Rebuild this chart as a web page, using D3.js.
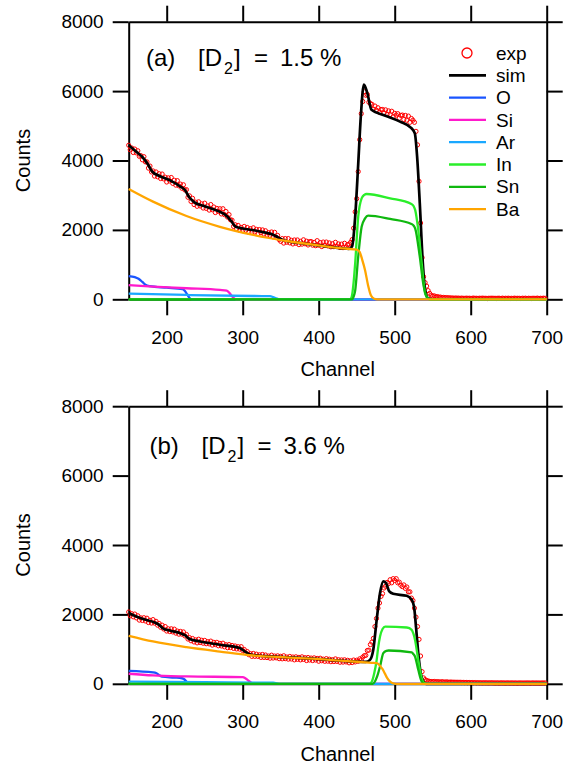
<!DOCTYPE html>
<html>
<head>
<meta charset="utf-8">
<script src="https://cdn.jsdelivr.net/npm/d3@7"></script>
<style>
  body { margin: 0; background: #fff; }
  svg { display: block; }
  text { font-family: "Liberation Sans", Arial, sans-serif; }
</style>
</head>
<body>
<svg id="chart" width="566" height="771"></svg>
<script>
// measured counts, one point every 2 channels from 150
const expChannels = d3.range(150, 700, 2)

const expA = [
  4440, 4310, 4360, 4230, 4330, 4220, 4280, 4120, 4140, 4020,
  4110, 3960, 3960, 3780, 3840, 3670, 3700, 3550, 3670, 3530,
  3620, 3480, 3610, 3470, 3520, 3380, 3500, 3410, 3510, 3340,
  3430, 3290, 3420, 3270, 3320, 3200, 3300, 3150, 3160, 2940,
  2980, 2820, 2910, 2730, 2800, 2680, 2810, 2690, 2750, 2630,
  2770, 2620, 2690, 2570, 2730, 2580, 2660, 2500, 2620, 2530,
  2610, 2460, 2610, 2440, 2530, 2370, 2440, 2290, 2280, 2100,
  2150, 2030, 2130, 1990, 2070, 1980, 2100, 1990, 2070, 1930,
  2035, 1930, 2060, 1940, 2015, 1890, 2010, 1920, 2000, 1880,
  1975, 1850, 1920, 1840, 1940, 1800, 1930, 1790, 1840, 1720,
  1670, 1750, 1620, 1750, 1645, 1750, 1625, 1700, 1595, 1710,
  1615, 1710, 1575, 1670, 1590, 1715, 1600, 1675, 1565, 1660,
  1665, 1560, 1640, 1545, 1690, 1560, 1635, 1520, 1650, 1555,
  1650, 1538, 1625, 1512, 1600, 1516, 1642, 1530, 1596, 1493,
  1590, 1488, 1615, 1505, 1575, 1590, 1640, 1720, 2050, 2520,
  2900, 3680, 4600, 5350, 5700, 5980, 5880, 5900, 5680, 5640,
  5620, 5480, 5570, 5450, 5520, 5390, 5470, 5470, 5370, 5460,
  5330, 5430, 5320, 5420, 5260, 5360, 5310, 5350, 5220, 5300,
  5310, 5180, 5300, 5160, 5280, 5100, 5210, 5160, 5100, 4840,
  4450, 3400, 2200, 1200, 650, 480, 380, 250, 170, 120,
  90, 100, 70, 80, 60, 65, 50, 55, 45, 50,
  40, 45, 35, 40, 30, 38, 32, 35, 28, 34,
  30, 26, 34, 28, 32, 25, 30, 35, 27, 30,
  25, 32, 28, 34, 26, 30, 22, 31, 28, 33,
  27, 30, 24, 32, 29, 26, 33, 25, 30, 28,
  31, 24, 29, 27, 33, 25, 30, 28, 22, 31,
  27, 32, 25, 30, 28, 24, 31, 26, 29, 33,
  25, 30, 27, 32, 28
]

const expB = [
  2070, 1960, 2020, 1930, 2010, 1900, 1960, 1835, 1900, 1825,
  1905, 1810, 1890, 1765, 1830, 1750, 1850, 1750, 1800, 1690,
  1740, 1630, 1690, 1580, 1650, 1520, 1585, 1505, 1585, 1495,
  1575, 1460, 1520, 1430, 1510, 1430, 1495, 1380, 1420, 1290,
  1330, 1240, 1305, 1205, 1265, 1180, 1285, 1190, 1255, 1170,
  1250, 1155, 1215, 1150, 1230, 1115, 1195, 1130, 1195, 1095,
  1165, 1090, 1170, 1065, 1125, 1040, 1130, 1045, 1105, 1020,
  1090, 1005, 1070, 1000, 1070, 960, 990, 890, 930, 840,
  870, 790, 875, 790, 855, 790, 835, 760, 845, 760,
  830, 755, 800, 738, 825, 742, 800, 748, 806, 724,
  792, 720, 808, 725, 772, 710, 788, 715, 772, 690,
  778, 705, 762, 690, 777, 705, 752, 670, 758, 685,
  742, 670, 748, 685, 732, 650, 737, 664, 710, 648,
  725, 652, 710, 637, 694, 641, 718, 645, 693, 621,
  688, 625, 692, 630, 678, 605, 663, 612, 685, 630,
  680, 650, 720, 690, 770, 810, 820, 960, 970, 1130,
  1200, 1310, 1650, 1880, 2180, 2330, 2520, 2600, 2760, 2810,
  2920, 2890, 3000, 2910, 3030, 2980, 3030, 2910, 2930, 2840,
  2800, 2850, 2750, 2790, 2650, 2650, 2470, 2400, 2180, 1920,
  1650, 1280, 800, 350, 170, 120, 95, 80, 70, 65,
  60, 68, 55, 62, 58, 50, 60, 54, 48, 56,
  50, 45, 52, 44, 48, 42, 46, 40, 45, 38,
  42, 36, 40, 34, 38, 32, 36, 30, 34, 28,
  32, 27, 30, 25, 31, 26, 29, 24, 30, 26,
  28, 23, 27, 25, 22, 28, 24, 26, 21, 27,
  24, 22, 27, 21, 25, 23, 20, 26, 22, 24,
  21, 25, 22, 26, 20, 23, 25, 21, 24, 22,
  23, 20, 25, 22, 24
]

// simulated spectra, [channel, counts]
const simA = [[150, 4440], [160, 4250], [168, 4100], [175, 3900], [181, 3680], [190, 3560], [205, 3420], [218, 3250], [224, 3150], [229, 2960], [236, 2800], [250, 2680], [268, 2540], [279, 2400], [285, 2250], [291, 2090], [300, 2040], [315, 1990], [330, 1920], [340, 1860], [346, 1790], [352, 1715], [360, 1670], [380, 1610], [402, 1545], [428, 1475], [440, 1455], [444, 1530], [448, 2380], [452, 3900], [455.5, 5300], [459.5, 6190], [464, 5940], [469.5, 5460], [485, 5310], [507, 5120], [522, 4930], [526.5, 4780], [529.5, 4110], [533, 2770], [537, 1040], [540, 270], [544, 30], [550, 0], [700, 0]]
const oA = [[150, 670], [158, 640], [163, 590], [168, 500], [172, 420], [178, 380], [200, 335], [221, 290], [224, 240], [227, 140], [230, 40], [233, 0], [700, 0]]
const siA = [[150, 410], [182, 365], [226, 318], [270, 270], [279, 250], [283, 170], [287, 60], [291, 0], [700, 0]]
const arA = [[150, 165], [226, 125], [314, 95], [336, 92], [340, 65], [344, 30], [348, 0], [700, 0]]
const inA = [[150, 0], [441, 0], [443.5, 80], [446, 500], [448, 1040], [452, 2380], [456.5, 2910], [460, 3010], [463, 3035], [494, 2910], [522, 2745], [525, 2680], [527, 2570], [531, 2000], [535.5, 1040], [540, 170], [544, 20], [547, 0], [700, 0]]
const snA = [[150, 0], [444, 0], [446, 80], [448, 250], [452, 1230], [456.5, 2090], [461, 2330], [465, 2410], [494, 2315], [522, 2170], [525, 2120], [527, 2040], [533, 1230], [537.5, 460], [542, 75], [546, 0], [700, 0]]
const baA = [[150, 3180], [182, 2815], [226, 2400], [270, 2090], [314, 1855], [358, 1680], [402, 1545], [428, 1475], [446, 1440], [451, 1420], [454, 1360], [457, 1160], [461, 840], [465, 400], [469, 100], [473, 15], [477, 0], [700, 0]]

const simB = [[150, 2040], [160, 1940], [170, 1860], [185, 1760], [190, 1700], [195, 1600], [205, 1530], [218, 1460], [224, 1400], [230, 1290], [244, 1220], [270, 1125], [296, 1030], [303, 930], [308, 860], [314, 830], [330, 795], [358, 765], [402, 712], [428, 668], [446, 645], [462, 632], [467.5, 690], [471.8, 980], [476.3, 1844], [480.7, 2614], [485, 2950], [488.6, 2902], [492.9, 2661], [498, 2594], [515.8, 2536], [522.4, 2421], [525.4, 2228], [528, 1651], [531, 884], [534.2, 308], [537.6, 66], [541, 0], [700, 0]]
const oB = [[150, 375], [182, 330], [186, 310], [190, 250], [194, 205], [210, 180], [220, 160], [223, 130], [226, 66], [229, 10], [231, 0], [700, 0]]
const siB = [[150, 290], [182, 240], [226, 212], [300, 193], [303, 170], [306, 120], [310, 50], [314, 0], [700, 0]]
const arB = [[150, 60], [250, 45], [340, 30], [350, 0], [700, 0]]
const inB = [[150, 0], [467, 0], [470, 70], [473, 300], [476.3, 690], [478, 1000], [480.7, 1360], [484, 1580], [487.5, 1650], [516, 1623], [522.4, 1556], [524.5, 1450], [526.7, 1270], [531, 690], [535.5, 165], [539, 20], [542, 0], [700, 0]]
const snB = [[150, 0], [471, 0], [474, 66], [477, 220], [480.7, 500], [485, 885], [489, 950], [492, 960], [522.4, 903], [524.5, 860], [526.7, 787], [531, 403], [535.5, 66], [539, 0], [700, 0]]
const baB = [[150, 1385], [182, 1220], [226, 1057], [270, 930], [314, 815], [358, 760], [402, 710], [428, 665], [446, 643], [470, 605], [476, 595], [479, 560], [481, 510], [484, 420], [487, 300], [490, 170], [494, 60], [498, 10], [502, 0], [700, 0]]

const xTicks = [200, 300, 400, 500, 600, 700]
const yTicks = [0, 2000, 4000, 6000, 8000]
const legendNames = ['exp', 'sim', 'O', 'Si', 'Ar', 'In', 'Sn', 'Ba']
const colors = {
  exp: '#ff0000', sim: '#000000', O: '#1a55ff', Si: '#ff1acc',
  Ar: '#1aa8ff', In: '#2aee2a', Sn: '#0fb80f', Ba: '#ffa500'
}

const svg = d3.select('#chart')
const margin = { left: 128.7, top: 21.7 }
const innerWidth = 418
const innerHeight = 277.6

const x = d3.scaleLinear().domain([150, 700]).range([0, innerWidth])
const y = d3.scaleLinear().domain([0, 8000]).range([innerHeight, 0])

const line = d3.line()
  .x(d => x(d[0]))
  .y(d => y(d[1]))
  .curve(d3.curveMonotoneX)

function styleAxis (g) {
  g.attr('font-size', 19).attr('font-family', 'Liberation Sans, Arial, sans-serif')
  g.selectAll('path, line').attr('stroke', '#000').attr('stroke-width', 2)
  g.selectAll('text').attr('fill', '#000')
}

function drawPanel (offsetY, exp, curves, title) {
  const g = svg.append('g')
    .attr('transform', 'translate(' + margin.left + ',' + (margin.top + offsetY) + ')')

  // axes on all four sides, ticks pointing out
  g.append('g')
    .attr('transform', 'translate(0,' + innerHeight + ')')
    .call(d3.axisBottom(x).tickValues(xTicks).tickSize(16).tickPadding(15).tickSizeOuter(0))
    .call(styleAxis)
  g.append('g')
    .call(d3.axisTop(x).tickValues(xTicks).tickSize(16).tickSizeOuter(0))
    .call(styleAxis)
    .call(a => a.selectAll('text').remove())
  g.append('g')
    .call(d3.axisLeft(y).tickValues(yTicks).tickFormat(d3.format('d')).tickSize(16).tickPadding(9).tickSizeOuter(0))
    .call(styleAxis)
  g.append('g')
    .attr('transform', 'translate(' + innerWidth + ',0)')
    .call(d3.axisRight(y).tickValues(yTicks).tickSize(16).tickSizeOuter(0))
    .call(styleAxis)
    .call(a => a.selectAll('text').remove())

  g.append('g')
    .selectAll('circle')
    .data(exp.map((v, i) => [expChannels[i], v]))
    .join('circle')
    .attr('cx', d => x(d[0]))
    .attr('cy', d => y(d[1]))
    .attr('r', 2.1)
    .attr('fill', 'none')
    .attr('stroke', colors.exp)
    .attr('stroke-width', 1)

  curves.forEach(c => {
    g.append('path')
      .datum(c.values)
      .attr('fill', 'none')
      .attr('stroke', colors[c.name])
      .attr('stroke-width', c.name === 'sim' ? 2.7 : 2.3)
      .attr('stroke-linejoin', 'round')
      .attr('d', line)
  })

  const t = g.append('text')
    .attr('y', title.y)
    .attr('font-size', 24)
    .attr('fill', '#000')
  t.append('tspan').attr('x', title.x - margin.left).text(title.tag)
  t.append('tspan').attr('x', title.x + 52 - margin.left).text('[D')
  t.append('tspan').attr('x', title.x + 78 - margin.left).attr('dy', 8).attr('font-size', 16).text('2')
  t.append('tspan').attr('x', title.x + 88 - margin.left).attr('dy', -8).text(']')
  t.append('tspan').attr('x', title.x + 108 - margin.left).text('=')
  t.append('tspan').attr('x', title.x + 134 - margin.left).text(title.value)
  t.append('tspan').attr('x', title.x + 174 - margin.left).text('%')

  g.append('text')
    .attr('x', innerWidth / 2)
    .attr('y', innerHeight + 77)
    .attr('text-anchor', 'middle')
    .attr('font-size', 20)
    .text('Channel')

  g.append('text')
    .attr('transform', 'translate(' + (30 - margin.left) + ',' + innerHeight / 2 + ') rotate(-90)')
    .attr('text-anchor', 'middle')
    .attr('font-size', 20)
    .text('Counts')

  return g
}

drawPanel(0, expA, [
  { name: 'sim', values: simA },
  { name: 'O', values: oA },
  { name: 'Si', values: siA },
  { name: 'Ar', values: arA },
  { name: 'In', values: inA },
  { name: 'Sn', values: snA },
  { name: 'Ba', values: baA }
], { x: 146, y: 44, tag: '(a)', value: '1.5' })

drawPanel(384.5, expB, [
  { name: 'sim', values: simB },
  { name: 'O', values: oB },
  { name: 'Si', values: siB },
  { name: 'Ar', values: arB },
  { name: 'In', values: inB },
  { name: 'Sn', values: snB },
  { name: 'Ba', values: baB }
], { x: 149.5, y: 47.5, tag: '(b)', value: '3.6' })

// legend, panel (a) only
const legend = svg.append('g')
  .selectAll('g')
  .data(legendNames)
  .join('g')
  .attr('transform', (d, i) => 'translate(0,' + (53 + i * 22.3) + ')')

legend.filter(d => d === 'exp')
  .append('circle')
  .attr('cx', 467)
  .attr('r', 5)
  .attr('fill', 'none')
  .attr('stroke', colors.exp)
  .attr('stroke-width', 1.3)

legend.filter(d => d !== 'exp')
  .append('line')
  .attr('x1', 449)
  .attr('x2', 486)
  .attr('stroke', d => colors[d])
  .attr('stroke-width', d => d === 'sim' ? 2.7 : 2.3)

legend.append('text')
  .attr('x', 496)
  .attr('dy', '0.35em')
  .attr('font-size', 19)
  .attr('fill', '#000')
  .text(d => d)
</script>
</body>
</html>
